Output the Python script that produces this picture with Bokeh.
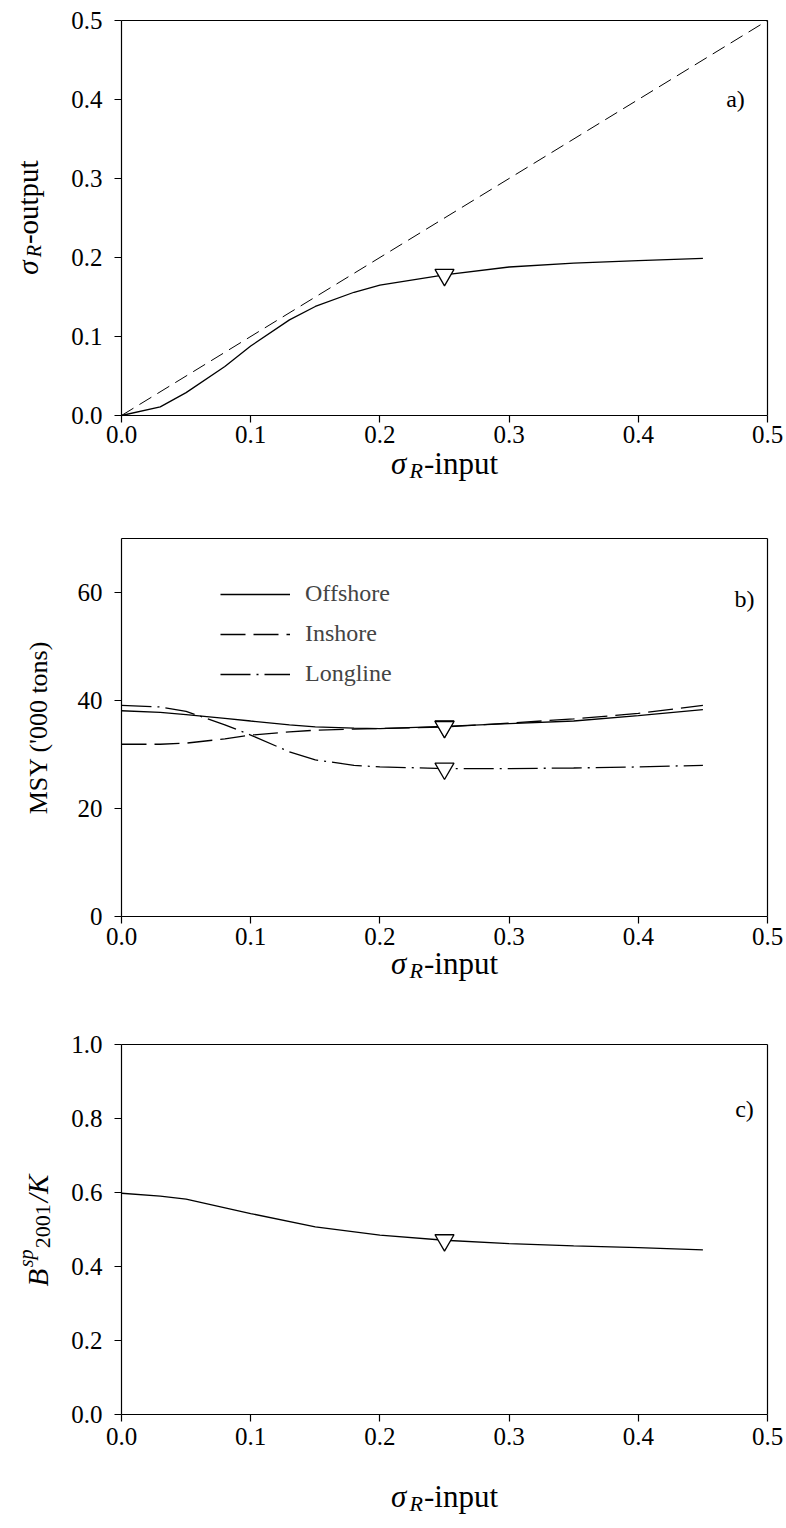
import math
from bokeh.plotting import figure
from bokeh.layouts import column
from bokeh.models import (Label, Range1d, Legend, LegendItem, FixedTicker,
                          PrintfTickFormatter, LinearAxis)
from bokeh.embed import file_html
from bokeh.resources import INLINE

FONT = "Liberation Serif"

# ---------------- data ----------------
# panel a
sig_in_a = [0.0, 0.03, 0.05, 0.08, 0.10, 0.13, 0.15, 0.18, 0.20, 0.25, 0.30, 0.35, 0.40, 0.45]
sig_out_a = [0.0, 0.011, 0.029, 0.062, 0.088, 0.121, 0.138, 0.156, 0.165, 0.178, 0.188, 0.193, 0.196, 0.199]
one_to_one = [0.0, 0.5]
marker_x = [0.25]
marker_a = [0.178]

# panel b
sig_in_b = [0.0, 0.03, 0.05, 0.08, 0.10, 0.13, 0.15, 0.18, 0.20, 0.25, 0.30, 0.35, 0.40, 0.45]
offshore = [38.1, 37.8, 37.4, 36.7, 36.2, 35.5, 35.1, 34.9, 34.8, 35.2, 35.7, 36.2, 37.2, 38.3]
inshore = [31.9, 31.9, 32.1, 32.9, 33.6, 34.2, 34.5, 34.7, 34.8, 35.1, 35.8, 36.6, 37.6, 39.1]
longline = [39.1, 38.8, 38.0, 35.5, 33.6, 30.5, 29.0, 28.0, 27.7, 27.4, 27.4, 27.5, 27.7, 28.0]
marker_b_x = [0.25, 0.25, 0.25]
marker_b = [35.2, 35.1, 27.4]

# panel c
sig_in_c = [0.0, 0.03, 0.05, 0.10, 0.15, 0.20, 0.25, 0.30, 0.35, 0.40, 0.45]
bsp_k = [0.598, 0.590, 0.582, 0.543, 0.507, 0.485, 0.471, 0.462, 0.456, 0.451, 0.445]
marker_c = [0.471]

x_ticks = [0.0, 0.1, 0.2, 0.3, 0.4, 0.5]
y_ticks_a = [0.0, 0.1, 0.2, 0.3, 0.4, 0.5]
y_ticks_b = [0, 20, 40, 60]
y_ticks_c = [0.0, 0.2, 0.4, 0.6, 0.8, 1.0]

# ---------------- layout geometry (page pixels) ----------------
W = 786
FL, FR = 121, 767          # frame left / right
XMIN, XMAX = 0.0, 0.5


class Panel:
    def __init__(self, top, height, f_top, f_bot, ymin, ymax, yticks, yfmt, xstand):
        self.top, self.f_top, self.f_bot = top, f_top, f_bot
        self.ymin, self.ymax = ymin, ymax
        self.ppy = (ymax - ymin) / (f_bot - f_top)
        self.ppx = (XMAX - XMIN) / (FR - FL)
        y_start = ymin - (top + height - f_bot) * self.ppy
        y_end = ymax + (f_top - top) * self.ppy
        x_start = XMIN - FL * self.ppx
        x_end = XMAX + (W - FR) * self.ppx
        p = figure(width=W, height=height, output_backend="svg", toolbar_location=None,
                   x_range=Range1d(x_start, x_end), y_range=Range1d(y_start, y_end),
                   min_border=0, min_border_left=0, min_border_right=0,
                   min_border_top=0, min_border_bottom=0)
        p.grid.visible = False
        p.outline_line_color = None
        p.background_fill_color = "white"
        p.border_fill_color = "white"
        xa, ya = p.xaxis[0], p.yaxis[0]
        xa.fixed_location = ymin
        xa.bounds = (XMIN, XMAX)
        ya.fixed_location = XMIN
        ya.bounds = (ymin, ymax)
        for ax, ticks, fmt, stand in ((xa, x_ticks, "%.1f", xstand), (ya, yticks, yfmt, 12)):
            ax.ticker = FixedTicker(ticks=ticks)
            ax.formatter = PrintfTickFormatter(format=fmt)
            ax.axis_line_color = "black"
            ax.axis_line_width = 1.2
            ax.major_tick_line_color = "black"
            ax.major_tick_line_width = 1.2
            ax.major_tick_out = 7
            ax.major_tick_in = 0
            ax.minor_tick_line_color = None
            ax.major_label_text_font = FONT
            ax.major_label_text_font_size = "25px"
            ax.major_label_text_color = "black"
            ax.major_label_standoff = stand
        # closing box: top and right edges as tick-less axes
        top_ax = LinearAxis(fixed_location=ymax, bounds=(XMIN, XMAX), ticker=FixedTicker(ticks=[]),
                            axis_line_color="black", axis_line_width=1.2,
                            major_tick_line_color=None, minor_tick_line_color=None)
        right_ax = LinearAxis(fixed_location=XMAX, bounds=(ymin, ymax), ticker=FixedTicker(ticks=[]),
                              axis_line_color="black", axis_line_width=1.2,
                              major_tick_line_color=None, minor_tick_line_color=None)
        p.add_layout(top_ax, "above")
        p.add_layout(right_ax, "right")
        self.p = p

    def dx(self, px):
        return XMIN + (px - FL) * self.ppx

    def dy(self, py):
        return self.ymin + (self.f_bot - py) * self.ppy

    def put(self, px, py, text, size, style="normal", align="left", baseline="alphabetic", angle=0.0):
        self.p.add_layout(Label(x=self.dx(px), y=self.dy(py), text=text, text_font=FONT,
                                text_font_size=f"{size}px", text_font_style=style,
                                text_align=align, text_baseline=baseline, angle=angle,
                                text_color="black"))

    def sigma_h(self, cx, by, suffix_text, suffix_em, fs=31):
        fsub = round(fs * 0.7)
        ws = 0.60 * fs
        wr = 0.66 * fsub
        total = ws + wr + suffix_em * fs
        x0 = cx - total / 2
        self.put(x0, by, "σ", fs, "italic")
        self.put(x0 + ws, by + 0.22 * fs, "R", fsub, "italic")
        self.put(x0 + ws + wr, by, suffix_text, fs)

    def sigma_v(self, bx, cy, suffix_text, suffix_em, fs=29):
        fsub = round(fs * 0.7)
        ws = 0.60 * fs
        wr = 0.66 * fsub
        total = ws + wr + suffix_em * fs
        y0 = cy + total / 2
        a = math.pi / 2
        self.put(bx, y0, "σ", fs, "italic", angle=a)
        self.put(bx + 0.22 * fs, y0 - ws, "R", fsub, "italic", angle=a)
        self.put(bx, y0 - ws - wr, suffix_text, fs, angle=a)


# ---------------- panel a ----------------
A = Panel(0, 495, 20, 415, 0.0, 0.5, y_ticks_a, "%.1f", 3)
pa = A.p
pa.line(one_to_one, one_to_one, line_color="black", line_width=1.0, line_dash="14 7")
pa.line(sig_in_a, sig_out_a, line_color="black", line_width=1.3)
pa.scatter(marker_x, marker_a, marker="inverted_triangle", size=19, fill_color="white",
           line_color="black", line_width=1.3)
A.put(735, 98, "a)", 24, align="center", baseline="middle")
A.sigma_h(444, 463, "-input", 2.389)
A.sigma_v(27, 217, "-output", 2.889)

# ---------------- panel b ----------------
B = Panel(495, 495, 538, 916, 0, 70, y_ticks_b, "%d", 4)
pb = B.p
r_off = pb.line(sig_in_b, offshore, line_color="black", line_width=1.3)
r_ins = pb.line(sig_in_b, inshore, line_color="black", line_width=1.3, line_dash="25 8")
r_lon = pb.line(sig_in_b, longline, line_color="black", line_width=1.3, line_dash="30 6 2 6")
pb.scatter(marker_b_x, marker_b, marker="inverted_triangle", size=19, fill_color="white",
           line_color="black", line_width=1.3)
leg = Legend(items=[LegendItem(label="Offshore", renderers=[r_off]),
                    LegendItem(label="Inshore", renderers=[r_ins]),
                    LegendItem(label="Longline", renderers=[r_lon])],
             location=(220, 990 - 687), orientation="vertical",
             glyph_width=70, glyph_height=20, label_height=20, label_standoff=15,
             spacing=13, padding=0, margin=0, border_line_color=None,
             background_fill_alpha=0, label_text_font=FONT, label_text_font_size="24px")
pb.add_layout(leg)
B.put(744, 598, "b)", 24, align="center", baseline="middle")
B.sigma_h(444, 963, "-input", 2.389)
B.put(38, 727, "MSY ('000 tons)", 26, align="center", angle=math.pi / 2)

# ---------------- panel c ----------------
C = Panel(990, 538, 1044, 1414, 0.0, 1.0, y_ticks_c, "%.1f", 6)
pc = C.p
pc.line(sig_in_c, bsp_k, line_color="black", line_width=1.3)
pc.scatter(marker_x, marker_c, marker="inverted_triangle", size=19, fill_color="white",
           line_color="black", line_width=1.3)
C.put(744, 1108, "c)", 24, align="center", baseline="middle")
C.sigma_h(444, 1496, "-input", 2.389)
# B^sp_2001/K (vertical)
fs, fsup, fsub, bx = 29, 20, 22, 37
yy = 1286
a = math.pi / 2
C.put(bx, yy, "B", fs, "italic", angle=a)
yy -= 0.66 * fs
C.put(bx - 0.40 * fs, yy, "sp", fsup, "italic", angle=a)
yy -= 0.95 * fsup
C.put(bx + 0.20 * fs, yy, "2001", fsub, angle=a)
yy -= 2.1 * fsub
C.put(bx, yy, "/K", fs, "italic", angle=a)

layout = column(pa, pb, pc, spacing=0)
open("out.html", "w").write(file_html(layout, INLINE))
